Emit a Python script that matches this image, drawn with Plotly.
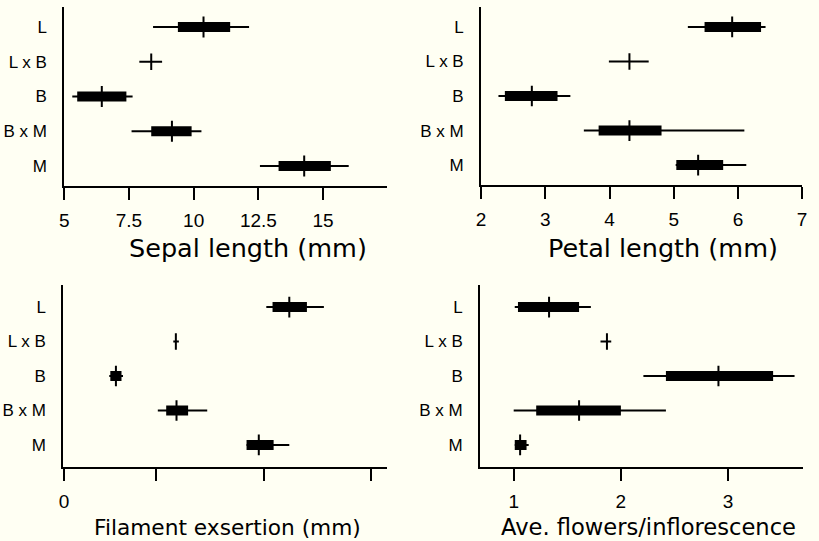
import plotly.graph_objects as go

W, H = 819, 541

# Categories, top to bottom
categories = ["L", "L x B", "B", "B x M", "M"]

# Sepal length (mm)
sepal_lo = [8.43, 7.90, 5.31, 7.60, 12.56]
sepal_q1 = [9.39, 8.36, 5.50, 8.36, 13.28]
sepal_med = [10.38, 8.36, 6.45, 9.16, 14.27]
sepal_q3 = [11.41, 8.36, 7.40, 9.92, 15.30]
sepal_hi = [12.14, 8.78, 7.64, 10.30, 15.99]

# Petal length (mm)
petal_lo = [5.22, 3.99, 2.27, 3.60, 5.03]
petal_q1 = [5.48, 4.31, 2.37, 3.83, 5.04]
petal_med = [5.91, 4.31, 2.79, 4.31, 5.38]
petal_q3 = [6.36, 4.31, 3.19, 4.81, 5.77]
petal_hi = [6.43, 4.61, 3.39, 6.10, 6.13]

# Filament exsertion (mm)
fil_lo = [0.942, 0.509, 0.211, 0.437, 0.850]
fil_q1 = [0.971, 0.521, 0.216, 0.476, 0.850]
fil_med = [1.049, 0.521, 0.242, 0.524, 0.907]
fil_q3 = [1.131, 0.521, 0.268, 0.578, 0.976]
fil_hi = [1.210, 0.535, 0.275, 0.667, 1.049]

# Ave. flowers/inflorescence
flw_lo = [1.01, 1.81, 2.21, 1.00, 1.01]
flw_q1 = [1.04, 1.87, 2.42, 1.21, 1.01]
flw_med = [1.33, 1.87, 2.91, 1.61, 1.06]
flw_q3 = [1.61, 1.87, 3.42, 2.00, 1.12]
flw_hi = [1.72, 1.91, 3.62, 2.42, 1.14]

# tick labels
sepal_ticks = [5, 7.5, 10, 12.5, 15, 17.5]
sepal_ticktext = ["5", "7.5", "10", "12.5", "15", "17.5"]
petal_ticks = [2, 3, 4, 5, 6, 7]
fil_ticks = [0]
fil_ticktext = ["0"]
fil_unlabeled_ticks = [0.427, 0.931, 1.431]
flw_ticks = [1, 2, 3]

panels = [
    dict(lo=sepal_lo, q1=sepal_q1, med=sepal_med, q3=sepal_q3, hi=sepal_hi,
         px=(60, 387), py=(7, 186), xr=[5, 17.48], yr=[-0.576, 4.576],
         tv=sepal_ticks, tt=sepal_ticktext, minor=[], title="Sepal length (mm)", tpos=(246, 248), tsize=25.5),
    dict(lo=petal_lo, q1=petal_q1, med=petal_med, q3=petal_q3, hi=petal_hi,
         px=(482, 807), py=(7, 185), xr=[2, 7.0], yr=[-0.576, 4.576],
         tv=petal_ticks, tt=[str(v) for v in petal_ticks], minor=[], title="Petal length (mm)", tpos=(666, 248), tsize=25.5),
    dict(lo=fil_lo, q1=fil_q1, med=fil_med, q3=fil_q3, hi=fil_hi,
         px=(59, 387), py=(285, 467), xr=[-0.003, 1.505], yr=[-0.64, 4.64],
         tv=fil_ticks, tt=fil_ticktext, minor=fil_unlabeled_ticks, title="Filament exsertion (mm)", tpos=(225, 527), tsize=21.7),
    dict(lo=flw_lo, q1=flw_q1, med=flw_med, q3=flw_q3, hi=flw_hi,
         px=(481, 808), py=(285, 467), xr=[0.687, 3.70], yr=[-0.64, 4.64],
         tv=flw_ticks, tt=[str(v) for v in flw_ticks], minor=[], title="Ave. flowers/inflorescence", tpos=(651, 527), tsize=22.6),
]

fig = go.Figure()
TICKFONT = dict(family="Liberation Sans", size=19, color="black")
CATFONT = dict(family="Liberation Sans", size=17, color="black")
layout = {}
annotations = []
ypos = [4, 3, 2, 1, 0]

for i, p in enumerate(panels, start=1):
    xa = "x" if i == 1 else f"x{i}"
    ya = "y" if i == 1 else f"y{i}"
    # whiskers
    wx, wy = [], []
    for lo, hi, y in zip(p["lo"], p["hi"], ypos):
        wx += [lo, hi, None]
        wy += [y, y, None]
    fig.add_trace(go.Scatter(x=wx, y=wy, mode="lines", line=dict(color="black", width=2),
                             xaxis=xa, yaxis=ya, showlegend=False, hoverinfo="skip"))
    # boxes
    fig.add_trace(go.Bar(x=[b - a for a, b in zip(p["q1"], p["q3"])], base=p["q1"], y=ypos,
                         orientation="h", width=0.29, marker=dict(color="black", line=dict(width=0)),
                         xaxis=xa, yaxis=ya, showlegend=False, hoverinfo="skip"))
    # medians
    mx, my = [], []
    for m, a, b, y in zip(p["med"], p["q1"], p["q3"], ypos):
        h = 0.3 if b > a else 0.24
        mx += [m, m, None]
        my += [y - h, y + h, None]
    fig.add_trace(go.Scatter(x=mx, y=my, mode="lines", line=dict(color="black", width=2),
                             xaxis=xa, yaxis=ya, showlegend=False, hoverinfo="skip"))

    xkey = "xaxis" if i == 1 else f"xaxis{i}"
    ykey = "yaxis" if i == 1 else f"yaxis{i}"
    xdict = dict(domain=[p["px"][0] / W, p["px"][1] / W], anchor=ya, range=p["xr"],
                 showline=True, linecolor="black", linewidth=2, showgrid=False, zeroline=False,
                 ticks="outside", ticklen=12, tickwidth=2, tickcolor="black", tickangle=0,
                 tickvals=p["tv"], ticktext=p["tt"], tickfont=TICKFONT, ticklabelstandoff=4)
    if p["minor"]:
        xdict["minor"] = dict(tickvals=p["minor"], ticks="outside", ticklen=12, tickwidth=2,
                              tickcolor="black", showgrid=False)
    layout[xkey] = xdict
    layout[ykey] = dict(domain=[1 - p["py"][1] / H, 1 - p["py"][0] / H], anchor=xa, range=p["yr"],
                        showline=True, linecolor="black", linewidth=2, showgrid=False, zeroline=False,
                        ticks="", tickvals=ypos, ticktext=categories, tickfont=CATFONT,
                        ticklabelstandoff=12)
    annotations.append(dict(text=p["title"], x=p["tpos"][0] / W, y=1 - p["tpos"][1] / H,
                            xref="paper", yref="paper", xanchor="center", yanchor="middle",
                            showarrow=False,
                            font=dict(family="DejaVu Sans", size=p["tsize"], color="black")))

fig.update_layout(width=W, height=H, margin=dict(l=0, r=0, t=0, b=0),
                  paper_bgcolor="#fffff3", plot_bgcolor="#fffff3",
                  annotations=annotations, showlegend=False, **layout)
fig.write_html("out.html", config={"displayModeBar": False},
               post_script="document.body.style.margin='0';document.body.style.overflow='hidden';document.body.style.background='#fffff3';")
